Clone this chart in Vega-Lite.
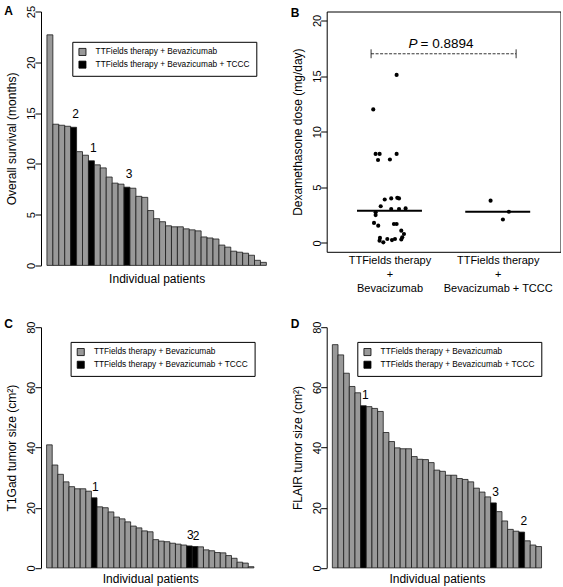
{
  "$schema": "https://vega.github.io/schema/vega-lite/v6.json",
  "background": "white",
  "padding": {"left": 4, "top": 4.5, "right": 0, "bottom": 0},
  "config": {
    "font": "Liberation Sans",
    "view": {"stroke": null},
    "axis": {"labelFont": "Liberation Sans", "titleFont": "Liberation Sans", "labelColor": "black", "titleColor": "black", "tickColor": "black", "domainColor": "black", "grid": false, "labelFontSize": 11, "titleFontSize": 12, "titleFontWeight": "normal", "tickWidth": 1, "domainWidth": 1},
    "legend": {"orient": "none", "title": null, "direction": "vertical", "strokeColor": "black", "fillColor": "white", "padding": 6, "symbolType": "square", "symbolSize": 50, "symbolStrokeColor": "black", "symbolStrokeWidth": 0.8, "symbolOpacity": 1, "labelFont": "Liberation Sans", "labelFontSize": 8.3, "labelColor": "black", "labelOffset": 9, "rowPadding": 1.7, "labelLimit": 400},
    "title": {"anchor": "start", "frame": "group", "font": "Liberation Sans", "fontSize": 12, "fontWeight": "bold", "color": "black", "baseline": "alphabetic"}
  },
  "datasets": {
    "survival": [
      {"patient": 1, "months": 22.7, "group": "TTFields therapy + Bevazicumab", "label": ""},
      {"patient": 2, "months": 13.9, "group": "TTFields therapy + Bevazicumab", "label": ""},
      {"patient": 3, "months": 13.8, "group": "TTFields therapy + Bevazicumab", "label": ""},
      {"patient": 4, "months": 13.7, "group": "TTFields therapy + Bevazicumab", "label": ""},
      {"patient": 5, "months": 13.6, "group": "TTFields therapy + Bevazicumab + TCCC", "label": "2"},
      {"patient": 6, "months": 11.2, "group": "TTFields therapy + Bevazicumab", "label": ""},
      {"patient": 7, "months": 10.85, "group": "TTFields therapy + Bevazicumab", "label": ""},
      {"patient": 8, "months": 10.3, "group": "TTFields therapy + Bevazicumab + TCCC", "label": "1"},
      {"patient": 9, "months": 9.9, "group": "TTFields therapy + Bevazicumab", "label": ""},
      {"patient": 10, "months": 9.6, "group": "TTFields therapy + Bevazicumab", "label": ""},
      {"patient": 11, "months": 8.7, "group": "TTFields therapy + Bevazicumab", "label": ""},
      {"patient": 12, "months": 8.1, "group": "TTFields therapy + Bevazicumab", "label": ""},
      {"patient": 13, "months": 8.0, "group": "TTFields therapy + Bevazicumab", "label": ""},
      {"patient": 14, "months": 7.7, "group": "TTFields therapy + Bevazicumab + TCCC", "label": "3"},
      {"patient": 15, "months": 7.6, "group": "TTFields therapy + Bevazicumab", "label": ""},
      {"patient": 16, "months": 6.8, "group": "TTFields therapy + Bevazicumab", "label": ""},
      {"patient": 17, "months": 6.7, "group": "TTFields therapy + Bevazicumab", "label": ""},
      {"patient": 18, "months": 5.4, "group": "TTFields therapy + Bevazicumab", "label": ""},
      {"patient": 19, "months": 4.6, "group": "TTFields therapy + Bevazicumab", "label": ""},
      {"patient": 20, "months": 4.3, "group": "TTFields therapy + Bevazicumab", "label": ""},
      {"patient": 21, "months": 3.9, "group": "TTFields therapy + Bevazicumab", "label": ""},
      {"patient": 22, "months": 3.8, "group": "TTFields therapy + Bevazicumab", "label": ""},
      {"patient": 23, "months": 3.8, "group": "TTFields therapy + Bevazicumab", "label": ""},
      {"patient": 24, "months": 3.6, "group": "TTFields therapy + Bevazicumab", "label": ""},
      {"patient": 25, "months": 3.5, "group": "TTFields therapy + Bevazicumab", "label": ""},
      {"patient": 26, "months": 3.4, "group": "TTFields therapy + Bevazicumab", "label": ""},
      {"patient": 27, "months": 2.8, "group": "TTFields therapy + Bevazicumab", "label": ""},
      {"patient": 28, "months": 2.7, "group": "TTFields therapy + Bevazicumab", "label": ""},
      {"patient": 29, "months": 2.6, "group": "TTFields therapy + Bevazicumab", "label": ""},
      {"patient": 30, "months": 2.0, "group": "TTFields therapy + Bevazicumab", "label": ""},
      {"patient": 31, "months": 1.8, "group": "TTFields therapy + Bevazicumab", "label": ""},
      {"patient": 32, "months": 1.4, "group": "TTFields therapy + Bevazicumab", "label": ""},
      {"patient": 33, "months": 1.3, "group": "TTFields therapy + Bevazicumab", "label": ""},
      {"patient": 34, "months": 1.2, "group": "TTFields therapy + Bevazicumab", "label": ""},
      {"patient": 35, "months": 1.0, "group": "TTFields therapy + Bevazicumab", "label": ""},
      {"patient": 36, "months": 0.5, "group": "TTFields therapy + Bevazicumab", "label": ""},
      {"patient": 37, "months": 0.3, "group": "TTFields therapy + Bevazicumab", "label": ""}
    ],
    "t1gad": [
      {"patient": 1, "size": 40.9, "group": "TTFields therapy + Bevazicumab", "label": ""},
      {"patient": 2, "size": 34.2, "group": "TTFields therapy + Bevazicumab", "label": ""},
      {"patient": 3, "size": 31.1, "group": "TTFields therapy + Bevazicumab", "label": ""},
      {"patient": 4, "size": 28.6, "group": "TTFields therapy + Bevazicumab", "label": ""},
      {"patient": 5, "size": 27.0, "group": "TTFields therapy + Bevazicumab", "label": ""},
      {"patient": 6, "size": 26.3, "group": "TTFields therapy + Bevazicumab", "label": ""},
      {"patient": 7, "size": 26.3, "group": "TTFields therapy + Bevazicumab", "label": ""},
      {"patient": 8, "size": 25.5, "group": "TTFields therapy + Bevazicumab", "label": ""},
      {"patient": 9, "size": 23.3, "group": "TTFields therapy + Bevazicumab + TCCC", "label": "1"},
      {"patient": 10, "size": 20.3, "group": "TTFields therapy + Bevazicumab", "label": ""},
      {"patient": 11, "size": 20.0, "group": "TTFields therapy + Bevazicumab", "label": ""},
      {"patient": 12, "size": 18.6, "group": "TTFields therapy + Bevazicumab", "label": ""},
      {"patient": 13, "size": 16.9, "group": "TTFields therapy + Bevazicumab", "label": ""},
      {"patient": 14, "size": 16.3, "group": "TTFields therapy + Bevazicumab", "label": ""},
      {"patient": 15, "size": 15.3, "group": "TTFields therapy + Bevazicumab", "label": ""},
      {"patient": 16, "size": 13.9, "group": "TTFields therapy + Bevazicumab", "label": ""},
      {"patient": 17, "size": 13.3, "group": "TTFields therapy + Bevazicumab", "label": ""},
      {"patient": 18, "size": 12.3, "group": "TTFields therapy + Bevazicumab", "label": ""},
      {"patient": 19, "size": 12.0, "group": "TTFields therapy + Bevazicumab", "label": ""},
      {"patient": 20, "size": 9.4, "group": "TTFields therapy + Bevazicumab", "label": ""},
      {"patient": 21, "size": 8.9, "group": "TTFields therapy + Bevazicumab", "label": ""},
      {"patient": 22, "size": 8.7, "group": "TTFields therapy + Bevazicumab", "label": ""},
      {"patient": 23, "size": 8.2, "group": "TTFields therapy + Bevazicumab", "label": ""},
      {"patient": 24, "size": 7.9, "group": "TTFields therapy + Bevazicumab", "label": ""},
      {"patient": 25, "size": 7.6, "group": "TTFields therapy + Bevazicumab", "label": ""},
      {"patient": 26, "size": 7.3, "group": "TTFields therapy + Bevazicumab + TCCC", "label": "3"},
      {"patient": 27, "size": 7.1, "group": "TTFields therapy + Bevazicumab + TCCC", "label": "2"},
      {"patient": 28, "size": 7.0, "group": "TTFields therapy + Bevazicumab", "label": ""},
      {"patient": 29, "size": 6.0, "group": "TTFields therapy + Bevazicumab", "label": ""},
      {"patient": 30, "size": 5.7, "group": "TTFields therapy + Bevazicumab", "label": ""},
      {"patient": 31, "size": 5.1, "group": "TTFields therapy + Bevazicumab", "label": ""},
      {"patient": 32, "size": 5.0, "group": "TTFields therapy + Bevazicumab", "label": ""},
      {"patient": 33, "size": 4.1, "group": "TTFields therapy + Bevazicumab", "label": ""},
      {"patient": 34, "size": 3.2, "group": "TTFields therapy + Bevazicumab", "label": ""},
      {"patient": 35, "size": 1.9, "group": "TTFields therapy + Bevazicumab", "label": ""},
      {"patient": 36, "size": 1.6, "group": "TTFields therapy + Bevazicumab", "label": ""},
      {"patient": 37, "size": 0.4, "group": "TTFields therapy + Bevazicumab", "label": ""}
    ],
    "flair": [
      {"patient": 1, "size": 74.2, "group": "TTFields therapy + Bevazicumab", "label": ""},
      {"patient": 2, "size": 70.8, "group": "TTFields therapy + Bevazicumab", "label": ""},
      {"patient": 3, "size": 64.7, "group": "TTFields therapy + Bevazicumab", "label": ""},
      {"patient": 4, "size": 60.3, "group": "TTFields therapy + Bevazicumab", "label": ""},
      {"patient": 5, "size": 58.2, "group": "TTFields therapy + Bevazicumab", "label": ""},
      {"patient": 6, "size": 53.9, "group": "TTFields therapy + Bevazicumab + TCCC", "label": "1"},
      {"patient": 7, "size": 53.6, "group": "TTFields therapy + Bevazicumab", "label": ""},
      {"patient": 8, "size": 53.0, "group": "TTFields therapy + Bevazicumab", "label": ""},
      {"patient": 9, "size": 52.0, "group": "TTFields therapy + Bevazicumab", "label": ""},
      {"patient": 10, "size": 45.0, "group": "TTFields therapy + Bevazicumab", "label": ""},
      {"patient": 11, "size": 42.0, "group": "TTFields therapy + Bevazicumab", "label": ""},
      {"patient": 12, "size": 39.9, "group": "TTFields therapy + Bevazicumab", "label": ""},
      {"patient": 13, "size": 39.6, "group": "TTFields therapy + Bevazicumab", "label": ""},
      {"patient": 14, "size": 39.6, "group": "TTFields therapy + Bevazicumab", "label": ""},
      {"patient": 15, "size": 37.0, "group": "TTFields therapy + Bevazicumab", "label": ""},
      {"patient": 16, "size": 36.1, "group": "TTFields therapy + Bevazicumab", "label": ""},
      {"patient": 17, "size": 36.0, "group": "TTFields therapy + Bevazicumab", "label": ""},
      {"patient": 18, "size": 35.0, "group": "TTFields therapy + Bevazicumab", "label": ""},
      {"patient": 19, "size": 32.5, "group": "TTFields therapy + Bevazicumab", "label": ""},
      {"patient": 20, "size": 32.1, "group": "TTFields therapy + Bevazicumab", "label": ""},
      {"patient": 21, "size": 30.8, "group": "TTFields therapy + Bevazicumab", "label": ""},
      {"patient": 22, "size": 30.8, "group": "TTFields therapy + Bevazicumab", "label": ""},
      {"patient": 23, "size": 29.7, "group": "TTFields therapy + Bevazicumab", "label": ""},
      {"patient": 24, "size": 29.4, "group": "TTFields therapy + Bevazicumab", "label": ""},
      {"patient": 25, "size": 28.6, "group": "TTFields therapy + Bevazicumab", "label": ""},
      {"patient": 26, "size": 26.5, "group": "TTFields therapy + Bevazicumab", "label": ""},
      {"patient": 27, "size": 25.2, "group": "TTFields therapy + Bevazicumab", "label": ""},
      {"patient": 28, "size": 23.6, "group": "TTFields therapy + Bevazicumab", "label": ""},
      {"patient": 29, "size": 21.6, "group": "TTFields therapy + Bevazicumab + TCCC", "label": "3"},
      {"patient": 30, "size": 18.7, "group": "TTFields therapy + Bevazicumab", "label": ""},
      {"patient": 31, "size": 15.6, "group": "TTFields therapy + Bevazicumab", "label": ""},
      {"patient": 32, "size": 12.8, "group": "TTFields therapy + Bevazicumab", "label": ""},
      {"patient": 33, "size": 12.2, "group": "TTFields therapy + Bevazicumab", "label": ""},
      {"patient": 34, "size": 11.9, "group": "TTFields therapy + Bevazicumab + TCCC", "label": "2"},
      {"patient": 35, "size": 9.0, "group": "TTFields therapy + Bevazicumab", "label": ""},
      {"patient": 36, "size": 7.6, "group": "TTFields therapy + Bevazicumab", "label": ""},
      {"patient": 37, "size": 7.1, "group": "TTFields therapy + Bevazicumab", "label": ""}
    ],
    "dex": [
      {"xpos": 1.066, "dose": 15.1}, {"xpos": 0.850, "dose": 12.0}, {"xpos": 0.872, "dose": 8.0},
      {"xpos": 0.909, "dose": 8.0}, {"xpos": 1.066, "dose": 8.0}, {"xpos": 0.894, "dose": 7.45},
      {"xpos": 1.004, "dose": 7.5}, {"xpos": 0.956, "dose": 3.9}, {"xpos": 1.016, "dose": 4.0},
      {"xpos": 1.072, "dose": 4.05}, {"xpos": 1.088, "dose": 4.0}, {"xpos": 0.919, "dose": 3.3},
      {"xpos": 1.016, "dose": 3.05}, {"xpos": 1.088, "dose": 3.05}, {"xpos": 1.149, "dose": 3.1},
      {"xpos": 0.872, "dose": 2.75}, {"xpos": 0.872, "dose": 2.5}, {"xpos": 0.857, "dose": 1.8},
      {"xpos": 0.896, "dose": 1.55}, {"xpos": 1.041, "dose": 1.7}, {"xpos": 1.066, "dose": 1.7},
      {"xpos": 1.109, "dose": 1.1}, {"xpos": 1.134, "dose": 0.8}, {"xpos": 1.118, "dose": 0.5},
      {"xpos": 0.912, "dose": 0.45}, {"xpos": 0.908, "dose": 0.2}, {"xpos": 0.943, "dose": 0.05},
      {"xpos": 0.980, "dose": 0.35}, {"xpos": 1.023, "dose": 0.25}, {"xpos": 1.051, "dose": 0.35},
      {"xpos": 1.109, "dose": 0.3},
      {"xpos": 1.934, "dose": 3.8}, {"xpos": 2.103, "dose": 2.8}, {"xpos": 2.048, "dose": 2.1}
    ],
    "medians": [
      {"from": 0.7, "to": 1.3, "median": 2.9},
      {"from": 1.7, "to": 2.3, "median": 2.8}
    ],
    "bracket": [
      {"from": 0.83, "to": 2.17, "level": 17.0, "low": 16.6, "high": 17.4, "textpos": 1.5, "textlevel": 17.54, "pname": "P", "pvalue": "= 0.8894"}
    ]
  },
  "bounds": "flush",
  "columns": 2,
  "spacing": {"row": 61.7, "column": 53.7},
  "resolve": {"scale": {"color": "independent"}, "legend": {"color": "independent"}},
  "concat": [
    {
      "width": 231.3,
      "height": 253.9,
      "title": {"text": "A", "dx": -36.7, "offset": -13},
      "data": {"name": "survival"},
      "layer": [
        {
          "mark": {"type": "bar", "stroke": "#1a1a1a", "strokeWidth": 0.8},
          "encoding": {
            "x": {"field": "patient", "type": "ordinal", "scale": {"paddingInner": 0, "paddingOuter": 1.375}, "axis": {"title": "Individual patients", "labels": false, "ticks": false, "domain": false, "titlePadding": 8}},
            "y": {"field": "months", "type": "quantitative", "scale": {"domain": [0, 25], "nice": false}, "axis": {"title": "Overall survival (months)", "values": [0, 5, 10, 15, 20, 25], "labelAngle": -90, "labelAlign": "center", "labelBaseline": "alphabetic", "tickSize": 6, "labelPadding": 0.5, "titlePadding": 7}},
            "color": {"field": "group", "type": "nominal", "scale": {"domain": ["TTFields therapy + Bevazicumab", "TTFields therapy + Bevazicumab + TCCC"], "range": ["#999999", "#000000"]}, "legend": {"legendX": 31.3, "legendY": 30.3}}
          }
        },
        {
          "mark": {"type": "text", "baseline": "alphabetic", "dy": -9, "dx": 2, "fontSize": 12, "color": "black"},
          "encoding": {
            "x": {"field": "patient", "type": "ordinal"},
            "y": {"field": "months", "type": "quantitative"},
            "text": {"field": "label"}
          }
        }
      ]
    },
    {
      "width": 233.8,
      "height": 240.3,
      "view": {"stroke": "black", "strokeWidth": 1},
      "title": {"text": "B", "dx": -36, "offset": -8},
      "layer": [
        {
          "data": {"name": "dex"},
          "mark": {"type": "circle", "size": 17, "color": "black", "opacity": 1},
          "encoding": {
            "x": {"field": "xpos", "type": "quantitative", "scale": {"domain": [0.42, 2.58], "nice": false, "zero": false}, "axis": {"title": null, "values": [1, 2], "ticks": false, "domain": false, "labelFontSize": 11, "labelLineHeight": 14, "labelPadding": 3, "labelBaseline": "top", "labelBound": false, "labelOverlap": false, "labelFlush": false, "labelExpr": "datum.value == 1 ? ['TTFields therapy', '+', 'Bevacizumab'] : ['TTFields therapy', '+', 'Bevacizumab + TCCC']"}},
            "y": {"field": "dose", "type": "quantitative", "scale": {"domain": [-0.8, 20.8], "nice": false, "zero": false}, "axis": {"title": "Dexamethasone dose (mg/day)", "values": [0, 5, 10, 15, 20], "domain": false, "labelAngle": -90, "labelAlign": "center", "labelBaseline": "alphabetic", "tickSize": 6, "labelPadding": 0.5, "titlePadding": 7}}
          }
        },
        {
          "data": {"name": "medians"},
          "mark": {"type": "rule", "strokeWidth": 2, "color": "black"},
          "encoding": {
            "x": {"field": "from", "type": "quantitative"},
            "x2": {"field": "to"},
            "y": {"field": "median", "type": "quantitative"}
          }
        },
        {
          "data": {"name": "bracket"},
          "mark": {"type": "rule", "strokeWidth": 0.8, "strokeDash": [3, 1.5], "color": "black"},
          "encoding": {
            "x": {"field": "from", "type": "quantitative"},
            "x2": {"field": "to"},
            "y": {"field": "level", "type": "quantitative"}
          }
        },
        {
          "data": {"name": "bracket"},
          "mark": {"type": "rule", "strokeWidth": 0.8, "color": "black"},
          "encoding": {
            "x": {"field": "from", "type": "quantitative"},
            "y": {"field": "low", "type": "quantitative"},
            "y2": {"field": "high"}
          }
        },
        {
          "data": {"name": "bracket"},
          "mark": {"type": "rule", "strokeWidth": 0.8, "color": "black"},
          "encoding": {
            "x": {"field": "to", "type": "quantitative"},
            "y": {"field": "low", "type": "quantitative"},
            "y2": {"field": "high"}
          }
        },
        {
          "data": {"name": "bracket"},
          "mark": {"type": "text", "align": "left", "baseline": "alphabetic", "fontStyle": "italic", "fontSize": 13.5, "dx": -35, "color": "black"},
          "encoding": {
            "x": {"field": "textpos", "type": "quantitative"},
            "y": {"field": "textlevel", "type": "quantitative"},
            "text": {"field": "pname"}
          }
        },
        {
          "data": {"name": "bracket"},
          "mark": {"type": "text", "align": "left", "baseline": "alphabetic", "fontSize": 13.5, "dx": -23, "color": "black"},
          "encoding": {
            "x": {"field": "textpos", "type": "quantitative"},
            "y": {"field": "textlevel", "type": "quantitative"},
            "text": {"field": "pvalue"}
          }
        }
      ]
    },
    {
      "width": 218.5,
      "height": 240.7,
      "title": {"text": "C", "dx": -36.7, "offset": -10},
      "data": {"name": "t1gad"},
      "layer": [
        {
          "mark": {"type": "bar", "stroke": "#1a1a1a", "strokeWidth": 0.8},
          "encoding": {
            "x": {"field": "patient", "type": "ordinal", "scale": {"paddingInner": 0, "paddingOuter": 1.3}, "axis": {"title": "Individual patients", "labels": false, "ticks": false, "domain": false, "titlePadding": 6}},
            "y": {"field": "size", "type": "quantitative", "scale": {"domain": [0, 80], "nice": false}, "axis": {"title": "T1Gad tumor size (cm²)", "values": [0, 20, 40, 60, 80], "labelAngle": -90, "labelAlign": "center", "labelBaseline": "alphabetic", "tickSize": 6, "labelPadding": 0.5, "titlePadding": 7}},
            "color": {"field": "group", "type": "nominal", "scale": {"domain": ["TTFields therapy + Bevazicumab", "TTFields therapy + Bevazicumab + TCCC"], "range": ["#999999", "#000000"]}, "legend": {"legendX": 29.6, "legendY": 14.7}}
          }
        },
        {
          "mark": {"type": "text", "baseline": "alphabetic", "dy": -7, "dx": 1, "fontSize": 12, "color": "black"},
          "encoding": {
            "x": {"field": "patient", "type": "ordinal"},
            "y": {"field": "size", "type": "quantitative"},
            "text": {"field": "label"}
          }
        }
      ]
    },
    {
      "width": 220.5,
      "height": 240.7,
      "title": {"text": "D", "dx": -36, "offset": -10},
      "data": {"name": "flair"},
      "layer": [
        {
          "mark": {"type": "bar", "stroke": "#1a1a1a", "strokeWidth": 0.8},
          "encoding": {
            "x": {"field": "patient", "type": "ordinal", "scale": {"paddingInner": 0, "paddingOuter": 1.5}, "axis": {"title": "Individual patients", "labels": false, "ticks": false, "domain": false, "titlePadding": 6}},
            "y": {"field": "size", "type": "quantitative", "scale": {"domain": [0, 80], "nice": false}, "axis": {"title": "FLAIR tumor size (cm²)", "values": [0, 20, 40, 60, 80], "labelAngle": -90, "labelAlign": "center", "labelBaseline": "alphabetic", "tickSize": 6, "labelPadding": 0.5, "titlePadding": 7}},
            "color": {"field": "group", "type": "nominal", "scale": {"domain": ["TTFields therapy + Bevazicumab", "TTFields therapy + Bevazicumab + TCCC"], "range": ["#999999", "#000000"]}, "legend": {"legendX": 30.6, "legendY": 14.7}}
          }
        },
        {
          "mark": {"type": "text", "baseline": "alphabetic", "dy": -7, "dx": 2, "fontSize": 12, "color": "black"},
          "encoding": {
            "x": {"field": "patient", "type": "ordinal"},
            "y": {"field": "size", "type": "quantitative"},
            "text": {"field": "label"}
          }
        }
      ]
    }
  ]
}
